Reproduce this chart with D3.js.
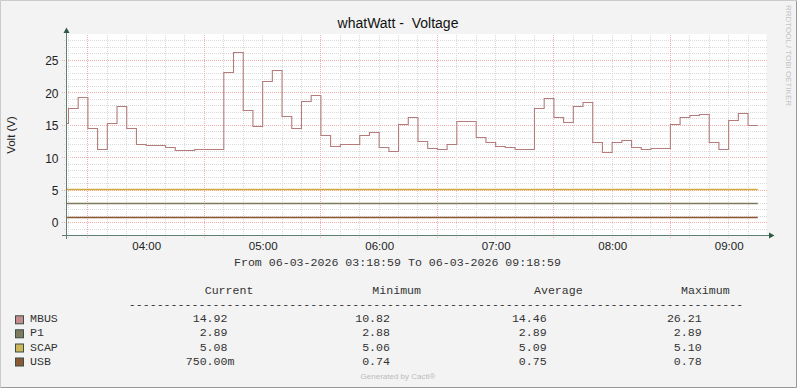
<!DOCTYPE html>
<html>
<head>
<meta charset="utf-8">
<script src="https://cdn.jsdelivr.net/npm/d3@7"></script>
<style>
  body { margin: 0; background: #f3f3f3; }
  svg { display: block; }
  text { font-family: "Liberation Sans", Arial, sans-serif; }
  .mono { font-family: "Liberation Mono", "Courier New", monospace; font-size: 11.6px; fill: #333; white-space: pre; }
</style>
</head>
<body>
<div id="chart"></div>
<script>
// chart values
const title = 'whatWatt -  Voltage'
const yLabel = 'Volt (V)'
const rangeText = 'From 06-03-2026 03:18:59 To 06-03-2026 09:18:59'

// MBUS voltage, one value per 5 minute step, first step ends 03:20, last ends 09:15
const mbusValues = [
  15.3, 17.6, 19.3, 14.5, 11.2, 15.3, 17.9, 14.5, 12.1, 11.9, 11.9, 11.5,
  11.1, 11.1, 11.3, 11.3, 11.3, 23.1, 26.21, 17.3, 14.8, 21.75, 23.45, 16.4,
  14.5, 18.6, 19.6, 13.45, 11.75, 12.06, 12.06, 13.45, 13.95, 11.6, 11.0, 15.15,
  16.2, 12.5, 11.45, 11.3, 12.06, 15.6, 15.6, 13.1, 12.4, 11.8, 11.55, 11.3,
  11.3, 17.55, 19.15, 16.2, 15.45, 17.95, 18.5, 12.4, 10.82, 12.4, 12.7, 11.6,
  11.3, 11.45, 11.45, 15.15, 16.2, 16.55, 16.7, 12.4, 11.2, 15.8, 16.8, 14.92
]
// the other three sources are flat over the window (start, end)
const p1Values = [2.89, 2.89]
const scapValues = [5.08, 5.08]
const usbValues = [0.75, 0.75]

const seriesNames = ['MBUS', 'P1', 'SCAP', 'USB']
const seriesColors = ['#b47c7c', '#7d7a5c', '#cfa93c', '#8a5530']
const swatchColors = ['#c48c8c', '#7f7b5f', '#cdb75a', '#8b5a35']
const statHeaders = ['Current', 'Minimum', 'Average', 'Maximum']
const statCurrent = ['14.92', '2.89', '5.08', '750.00m']
const statMinimum = ['10.82', '2.88', '5.06', '0.74']
const statAverage = ['14.46', '2.89', '5.09', '0.75']
const statMaximum = ['26.21', '2.89', '5.10', '0.78']
const yTicks = [0, 5, 10, 15, 20, 25]

const W = 797, H = 388
const tStart = new Date(2026, 2, 6, 3, 18, 59)
const tEnd = new Date(2026, 2, 6, 9, 18, 59)
const firstStep = new Date(2026, 2, 6, 3, 20, 0)
const stepMs = 5 * 60 * 1000

const x = d3.scaleTime().domain([tStart, tEnd]).range([66.5, 765.5])
const y = d3.scaleLinear().domain([-2, 29]).range([235.5, 34.5])
const px = v => Math.round(v - 0.5) + 0.5

const svg = d3.select('#chart').append('svg')
    .attr('width', W)
    .attr('height', H)

// frame
svg.append('rect').attr('width', W).attr('height', H).attr('fill', '#f3f3f3')
svg.append('path').attr('d', `M0.5,${H - 1}V0.5H${W - 1}`).attr('fill', 'none').attr('stroke', '#cbcbcb')
svg.append('path').attr('d', `M0.5,${H - 0.5}H${W - 0.5}V0.5`).attr('fill', 'none').attr('stroke', '#999')

// plot area
svg.append('rect')
    .attr('x', 66.5).attr('y', 34)
    .attr('width', 700).attr('height', 202)
    .attr('fill', '#fff')

const grid = svg.append('g').attr('shape-rendering', 'crispEdges')

// horizontal grid
const minorY = d3.range(-1, 29).filter(v => v % 5 !== 0)
grid.selectAll('.hminor')
    .data(minorY)
  .enter().append('line')
    .attr('x1', 64).attr('x2', 767)
    .attr('y1', d => px(y(d))).attr('y2', d => px(y(d)))
    .attr('stroke', '#dadada').attr('stroke-dasharray', '1,1')
grid.selectAll('.hmajor')
    .data(yTicks)
  .enter().append('line')
    .attr('x1', 62).attr('x2', 767)
    .attr('y1', d => px(y(d))).attr('y2', d => px(y(d)))
    .attr('stroke', '#f0b0b0').attr('stroke-dasharray', '1,1')

// vertical grid: every 10 minutes grey, half past the hour red
const minorX = d3.timeMinute.every(10).range(tStart, tEnd)
grid.selectAll('.vline')
    .data(minorX)
  .enter().append('line')
    .attr('x1', d => px(x(d))).attr('x2', d => px(x(d)))
    .attr('y1', 34.5)
    .attr('y2', d => d.getMinutes() === 30 ? 239 : 237.5)
    .attr('stroke', d => d.getMinutes() === 30 ? '#f0b0b0' : '#dadada')
    .attr('stroke-dasharray', '1,1')

// series
const mbusPoints = [{ t: tStart, v: mbusValues[0] }].concat(
  mbusValues.map((v, i) => ({ t: new Date(firstStep.getTime() + i * stepMs), v: v })))
const lastT = mbusPoints[mbusPoints.length - 1].t

const line = d3.line()
    .x(d => x(d.t))
    .y(d => px(y(d.v)))
    .curve(d3.curveStepBefore)

const flat = [p1Values, scapValues, usbValues].map(vals => [
  { t: tStart, v: vals[0] }, { t: lastT, v: vals[1] }
])

svg.selectAll('.flat')
    .data(flat)
  .enter().append('path')
    .attr('d', line)
    .attr('fill', 'none')
    .attr('stroke', (d, i) => seriesColors[i + 1])
    .attr('stroke-width', 1.3)

svg.append('path')
    .datum(mbusPoints)
    .attr('d', line)
    .attr('fill', 'none')
    .attr('stroke', seriesColors[0])
    .attr('stroke-width', 1.1)

// axes
const axisColor = '#5f7f70'
svg.append('line')
    .attr('x1', 66.5).attr('x2', 66.5).attr('y1', 239).attr('y2', 32)
    .attr('stroke', axisColor)
svg.append('line')
    .attr('x1', 62).attr('x2', 770).attr('y1', 235.5).attr('y2', 235.5)
    .attr('stroke', axisColor)
svg.append('path').attr('d', 'M63.5,33L66.5,27.5L69.5,33Z').attr('fill', '#2f5a46')
svg.append('path').attr('d', 'M769,232.5L774.5,235.5L769,238.5Z').attr('fill', '#2f5a46')

const yAxis = svg.append('g')
    .attr('transform', 'translate(66.5,0)')
    .call(d3.axisLeft(y).tickValues(yTicks).tickSize(0).tickPadding(8))
yAxis.select('.domain').remove()
yAxis.selectAll('text')
    .attr('font-family', '"Liberation Sans", Arial, sans-serif')
    .attr('font-size', '12px')
    .attr('fill', '#222')
    .attr('dy', '0.36em')

const xAxis = svg.append('g')
    .attr('transform', 'translate(0,235.5)')
    .call(d3.axisBottom(x).ticks(d3.timeHour.every(1)).tickFormat(d3.timeFormat('%H:%M')).tickSize(0).tickPadding(6))
xAxis.select('.domain').remove()
xAxis.selectAll('text')
    .attr('font-family', '"Liberation Sans", Arial, sans-serif')
    .attr('font-size', '11.5px')
    .attr('fill', '#222')

// titles
svg.append('text')
    .attr('x', 398).attr('y', 28)
    .attr('text-anchor', 'middle')
    .attr('font-size', '14px')
    .attr('fill', '#111')
    .style('white-space', 'pre')
    .text(title)

svg.append('text')
    .attr('transform', 'translate(15,135) rotate(-90)')
    .attr('text-anchor', 'middle')
    .attr('font-size', '11.5px')
    .attr('fill', '#222')
    .text(yLabel)

svg.append('text')
    .attr('class', 'mono')
    .attr('x', 397.5).attr('y', 266)
    .attr('text-anchor', 'middle')
    .text(rangeText)

// legend table
const headerX = [204.7, 372.3, 534, 681]
const numEnd = [227.5, 390, 546.7, 701.7]
const charW = 6.95
const rowY = [322.3, 336.3, 350.5, 364.5]

svg.selectAll('.hdr')
    .data(statHeaders)
  .enter().append('text')
    .attr('class', 'mono')
    .attr('x', (d, i) => headerX[i]).attr('y', 294.3)
    .text(d => d)

svg.append('text')
    .attr('class', 'mono')
    .attr('x', 128.7).attr('y', 307.5)
    .attr('textLength', 614.6)
    .attr('lengthAdjust', 'spacing')
    .text('-'.repeat(88))

const rows = svg.selectAll('.row')
    .data(seriesNames)
  .enter().append('g')
    .attr('transform', (d, i) => `translate(0,${rowY[i]})`)

rows.append('rect')
    .attr('x', 15.5).attr('y', -6.5)
    .attr('width', 8).attr('height', 8)
    .attr('fill', (d, i) => swatchColors[i])
    .attr('stroke', '#3a4f45')

rows.append('text')
    .attr('class', 'mono')
    .attr('x', 30)
    .text(d => d)

const cols = [statCurrent, statMinimum, statAverage, statMaximum]
cols.forEach((col, c) => {
  rows.append('text')
      .attr('class', 'mono')
      .attr('text-anchor', 'end')
      .attr('x', (d, i) => /[a-z]$/i.test(col[i]) ? numEnd[c] + charW : numEnd[c])
      .text((d, i) => col[i])
})

// credits
svg.append('text')
    .attr('x', 398).attr('y', 379)
    .attr('text-anchor', 'middle')
    .attr('font-size', '8px')
    .attr('fill', '#bbb')
    .text('Generated by Cacti®')

svg.append('text')
    .attr('transform', 'translate(786,5) rotate(90)')
    .attr('font-size', '8px')
    .attr('fill', '#c4c4c4')
    .attr('textLength', 101)
    .attr('lengthAdjust', 'spacingAndGlyphs')
    .text('RRDTOOL / TOBI OETIKER')
</script>
</body>
</html>
